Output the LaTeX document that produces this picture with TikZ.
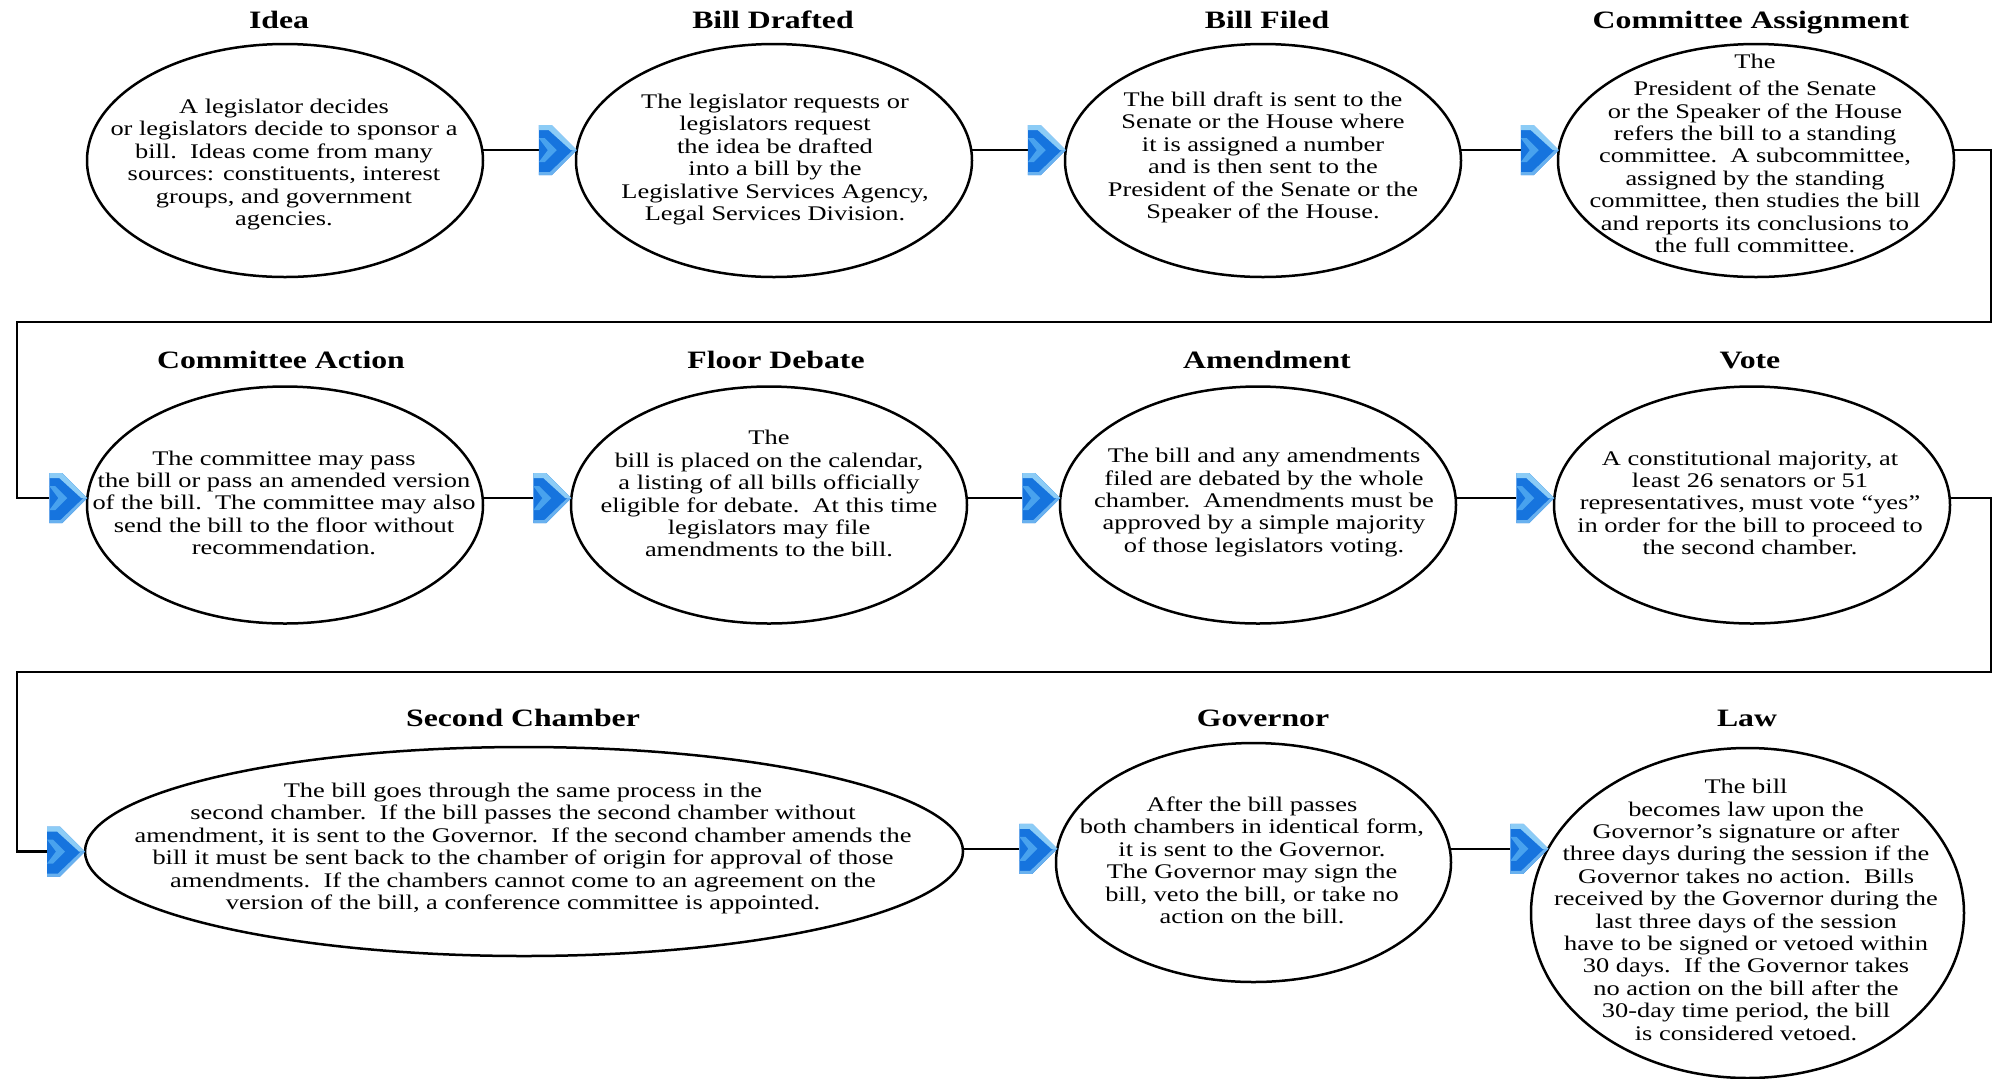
\documentclass[tikz,border=0pt]{standalone}
\usepackage{fontspec}
\setmainfont{Liberation Serif}
\usepackage{graphicx}
\usetikzlibrary{shapes.geometric,calc}
\definecolor{chevdark}{RGB}{22,116,222}
\definecolor{chevmid}{RGB}{72,162,238}
\definecolor{chevlight}{RGB}{140,204,246}
\newcommand\dsp{\ \ }
\newcommand\bodytext[1]{\scalebox{1.27}[1]{\fontsize{10.4}{11.2}\selectfont\begin{tabular}{@{}c@{}}#1\end{tabular}}}
\newcommand\headtext[1]{\scalebox{1.27}[1]{\fontsize{12.5}{15}\selectfont\bfseries #1}}
\tikzset{
  ell/.style={draw, ellipse, line width=1.25pt, inner sep=0pt, outer sep=0pt},
  rowa/.style={minimum width=198pt, minimum height=116.5pt},
  rowb/.style={minimum width=198pt, minimum height=118.5pt},
  bodyt/.style={inner sep=0pt},
  head/.style={inner sep=0pt, anchor=base},
  conn/.style={line width=1.1pt},
  chev/.pic={
    \fill[chevdark] (-38,-25) -- (-25,-25) -- (0,0) -- (-25,25) -- (-38,25) -- cycle;
    \fill[chevlight] (-38,-25) -- (-25,-25) -- (0,0) -- (-6,0) -- (-28,-20) -- (-38,-20) -- cycle;
    \fill[chevlight!70!chevdark] (-38,25) -- (-25,25) -- (0,0) -- (-4,0) -- (-27,22) -- (-38,22) -- cycle;
    \fill[chevmid] (-38,-12) -- (-32,-12) -- (-20,0) -- (-32,12) -- (-38,12) -- (-29,0) -- cycle;
  }
}
\begin{document}
\begin{tikzpicture}[x=0.5pt,y=-0.5pt]
\useasboundingbox (0,0) rectangle (1993,1078);

% ---------- row 1 ----------
\node[ell,rowa] (idea) at (285,160.5) {};
\node[ell,rowa] (drafted) at (774,160.5) {};
\node[ell,rowa] (filed) at (1263,160.5) {};
\node[ell,rowa] (cass) at (1756,160.5) {};

\node[head] (ideaH) at (279,28.5) {\headtext{Idea}};
\node[head] (draftedH) at (773,28.5) {\headtext{Bill Drafted}};
\node[head] (filedH) at (1267,28.5) {\headtext{Bill Filed}};
\node[head] (cassH) at (1751,28.5) {\headtext{Committee Assignment}};

\node[bodyt] (ideaT) at (284,165) {\bodytext{A legislator decides\\or legislators decide to sponsor a\\bill.\dsp Ideas come from many\\sources: constituents, interest\\groups, and government\\agencies.}};
\node[bodyt] (draftedT) at (775,160) {\bodytext{The legislator requests or\\legislators request\\the idea be drafted\\into a bill by the\\Legislative Services Agency,\\Legal Services Division.}};
\node[bodyt] (filedT) at (1263,158) {\bodytext{The bill draft is sent to the\\Senate or the House where\\it is assigned a number\\and is then sent to the\\President of the Senate or the\\Speaker of the House.}};
\node[bodyt] (cassT) at (1755,156) {\bodytext{The\\[2.5pt]President of the Senate\\or the Speaker of the House\\refers the bill to a standing\\committee.\dsp A subcommittee,\\assigned by the standing\\committee, then studies the bill\\and reports its conclusions to\\the full committee.}};

% ---------- row 2 ----------
\node[ell,rowb] (cact) at (285,505) {};
\node[ell,rowb] (floor) at (769,505) {};
\node[ell,rowb] (amend) at (1258,505) {};
\node[ell,rowb] (vote) at (1752,505) {};

\node[head] (cactH) at (281,368) {\headtext{Committee Action}};
\node[head] (floorH) at (776,368) {\headtext{Floor Debate}};
\node[head] (amendH) at (1267,368) {\headtext{Amendment}};
\node[head] (voteH) at (1750,368) {\headtext{Vote}};

\node[bodyt] (cactT) at (284,505.5) {\bodytext{The committee may pass\\the bill or pass an amended version\\of the bill.\dsp The committee may also\\send the bill to the floor without\\recommendation.}};
\node[bodyt] (floorT) at (769,496.5) {\bodytext{The\\bill is placed on the calendar,\\a listing of all bills officially\\eligible for debate.\dsp At this time\\legislators may file\\amendments to the bill.}};
\node[bodyt] (amendT) at (1264,503) {\bodytext{The bill and any amendments\\filed are debated by the whole\\chamber.\dsp Amendments must be\\approved by a simple majority\\of those legislators voting.}};
\node[bodyt] (voteT) at (1750,505.5) {\bodytext{A constitutional majority, at\\least 26 senators or 51\\representatives, must vote “yes”\\in order for the bill to proceed to\\the second chamber.}};

% ---------- row 3 ----------
\node[ell,minimum width=439pt,minimum height=104.5pt] (sec) at (524,851.5) {};
\node[ell,minimum width=197.5pt,minimum height=119.5pt] (gov) at (1253.5,862.5) {};
\node[ell,minimum width=216.5pt,minimum height=165pt] (law) at (1747.5,913) {};

\node[head] (secH) at (523,726) {\headtext{Second Chamber}};
\node[head] (govH) at (1263,726) {\headtext{Governor}};
\node[head] (lawH) at (1747,726) {\headtext{Law}};

\node[bodyt] (secT) at (523,849) {\bodytext{The bill goes through the same process in the\\second chamber.\dsp If the bill passes the second chamber without\\amendment, it is sent to the Governor.\dsp If the second chamber amends the\\bill it must be sent back to the chamber of origin for approval of those\\amendments.\dsp If the chambers cannot come to an agreement on the\\version of the bill, a conference committee is appointed.}};
\node[bodyt] (govT) at (1252,863) {\bodytext{After the bill passes\\both chambers in identical form,\\it is sent to the Governor.\\The Governor may sign the\\bill, veto the bill, or take no\\action on the bill.}};
\node[bodyt] (lawT) at (1746,912.5) {\bodytext{The bill\\becomes law upon the\\Governor’s signature or after\\three days during the session if the\\Governor takes no action.\dsp Bills\\received by the Governor during the\\last three days of the session\\have to be signed or vetoed within\\30 days.\dsp If the Governor takes\\no action on the bill after the\\30-day time period, the bill\\is considered vetoed.}};

% ---------- connectors ----------
\coordinate (R1) at (1991,322);
\coordinate (L1) at (17,322);
\coordinate (R2) at (1991,672);
\coordinate (L2) at (17,672);

\draw[conn] (idea.3) -- ($(drafted.177)+(-38,0)$);
\draw[conn] (drafted.3) -- ($(filed.177)+(-38,0)$);
\draw[conn] (filed.3) -- ($(cass.177)+(-38,0)$);
\draw[conn] (cass.3) -| (R1) -- (L1) |- ($(cact.178)+(-38,0)$);
\draw[conn] (cact.2) -- ($(floor.178)+(-38,0)$);
\draw[conn] (floor.2) -- ($(amend.178)+(-38,0)$);
\draw[conn] (amend.2) -- ($(vote.178)+(-38,0)$);
\draw[conn] (vote.2) -| (R2) -- (L2) |- ($(sec.west)+(-38,0)$);
\draw[conn] (gov.176 -| sec.east) -- ($(gov.176)+(-38,0)$);
\draw[conn] (gov.4) -- ($(law.162 |- gov.4)+(-38,0)$);

\pic at (drafted.177) {chev};
\pic at (filed.177) {chev};
\pic at (cass.177) {chev};
\pic at (cact.178) {chev};
\pic at (floor.178) {chev};
\pic at (amend.178) {chev};
\pic at (vote.178) {chev};
\pic at (sec.west) {chev};
\pic at (gov.176) {chev};
\pic at (law.162 |- gov.4) {chev};
\end{tikzpicture}
\end{document}
